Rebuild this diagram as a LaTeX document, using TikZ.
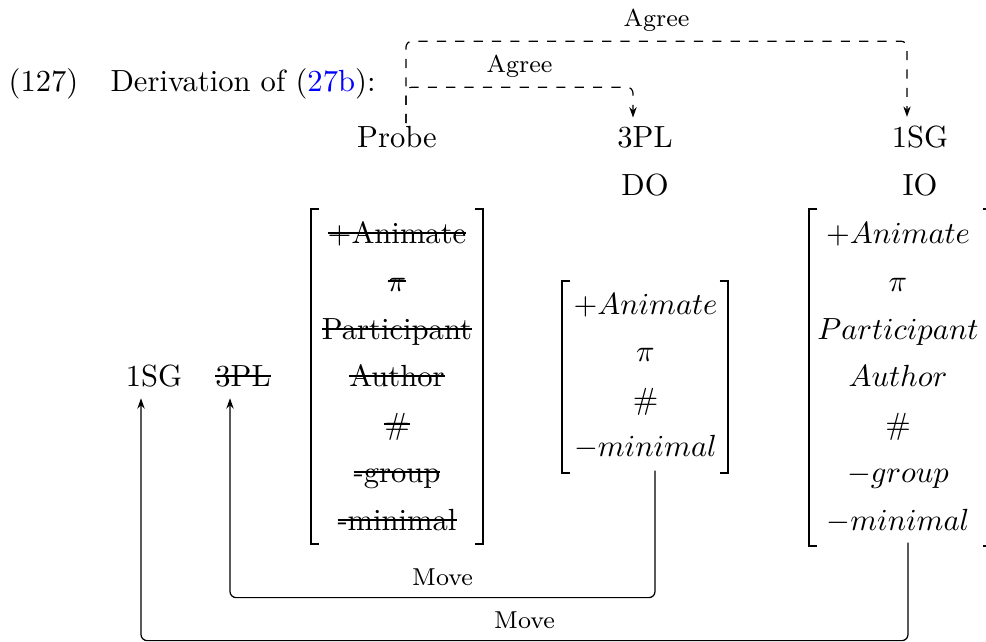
\documentclass[tikz,border=0pt]{standalone}
\usetikzlibrary{calc,fit,arrows.meta}
\newcommand\strk[1]{\sbox0{#1}\makebox[0pt][l]{\usebox0}\rule[3.1pt]{\wd0}{0.4pt}}
\newcommand\mybrackets[1]{%
  \draw[brk] ($(#1.north west)+(8,0)$) -- (#1.north west) -- (#1.south west) -- ++(8,0);
  \draw[brk] ($(#1.north east)+(-8,0)$) -- (#1.north east) -- (#1.south east) -- ++(-8,0);}
\tikzset{
  txt/.style={inner sep=0pt, anchor=base, font=\normalsize},
  lab/.style={inner sep=0pt, anchor=base, font=\footnotesize, yshift=4.8pt},
  brk/.style={line width=0.6pt},
  agree/.style={dashed, rounded corners=2pt, -{Stealth[length=3.4pt,width=2.4pt]}},
  move/.style={rounded corners=2pt, -{Stealth[length=3.4pt,width=2.4pt]}},
  matbox/.style={inner sep=0pt, draw=none}
}
\begin{document}
\begin{tikzpicture}[x=0.3268pt,y=-0.3268pt]
\useasboundingbox (0,0) rectangle (986,642);

% heading
\node[txt, anchor=base west] (num) at (8,92) {(127)};
\node[txt, anchor=base west] (der) at (110,92) {Derivation of (\textcolor{blue}{27b}):};

% top row
\node[txt] (probe) at (397,147) {Probe};
\node[txt] (tpl) at (645,147) {3PL};
\node[txt] (osg) at (920,147) {1SG};
\node[txt] (do) at (645,195) {DO};
\node[txt] (io) at (920,195) {IO};

% moved elements
\node[txt] (lo1) at (154,386) {1SG};
\node[txt] (lo2) at (243,386) {\strk{3PL}};

% crossed-out matrix (probe)
\node[matbox, fit={(312,210) (482,543)}] (cmat) {};
\mybrackets{cmat}
\node[txt] (c1) at (397,243) {\strk{+Animate}};
\node[txt] (c2) at (397,291) {\strk{$\pi$}};
\node[txt] (c3) at (397,339) {\strk{Participant}};
\node[txt] (c4) at (397,386) {\strk{Author}};
\node[txt] (c5) at (397,434) {\strk{\#}};
\node[txt] (c6) at (397,482) {\strk{-group}};
\node[txt] (c7) at (397,530) {\strk{-minimal}};

% DO matrix
\node[matbox, fit={(563,282) (727,472)}] (domat) {};
\mybrackets{domat}
\node[txt] (d1) at (645.5,314) {$+Animate$};
\node[txt] (d2) at (645.5,361) {$\pi$};
\node[txt] (d3) at (645.5,409) {$\#$};
\node[txt] (d4) at (645.5,456) {$-minimal$};

% IO matrix
\node[matbox, fit={(810,210) (990,545)}] (iomat) {};
\mybrackets{iomat}
\node[txt] (i1) at (898,243) {$+Animate$};
\node[txt] (i2) at (898,291) {$\pi$};
\node[txt] (i3) at (898,339) {$Participant$};
\node[txt] (i4) at (898,386) {$Author$};
\node[txt] (i5) at (898,434) {$\#$};
\node[txt] (i6) at (898,482) {$-group$};
\node[txt] (i7) at (898,530) {$-minimal$};

% Agree arrows
\coordinate (ps) at ($(probe.north)+(9,-2)$);
\draw[agree] (ps) -- ++(0,-82) -| node[lab,pos=0.25]{Agree} ($(osg.north)+(-13,-8)$);
\draw[agree] (ps) -- ++(0,-36) -| node[lab,pos=0.25]{Agree} ($(tpl.north)+(-12,-8)$);

% Move arrows
\draw[move] ($(domat.south)+(10,-2)$) -- ++(0,127) -| node[lab,pos=0.25,yshift=-1pt]{Move} ($(lo2.south)+(-13,11)$);
\draw[move] ($(iomat.south)+(8,-3)$) -- ++(0,98) -| node[lab,pos=0.25,yshift=-1pt]{Move} ($(lo1.south)+(-13,11)$);
\end{tikzpicture}
\end{document}
